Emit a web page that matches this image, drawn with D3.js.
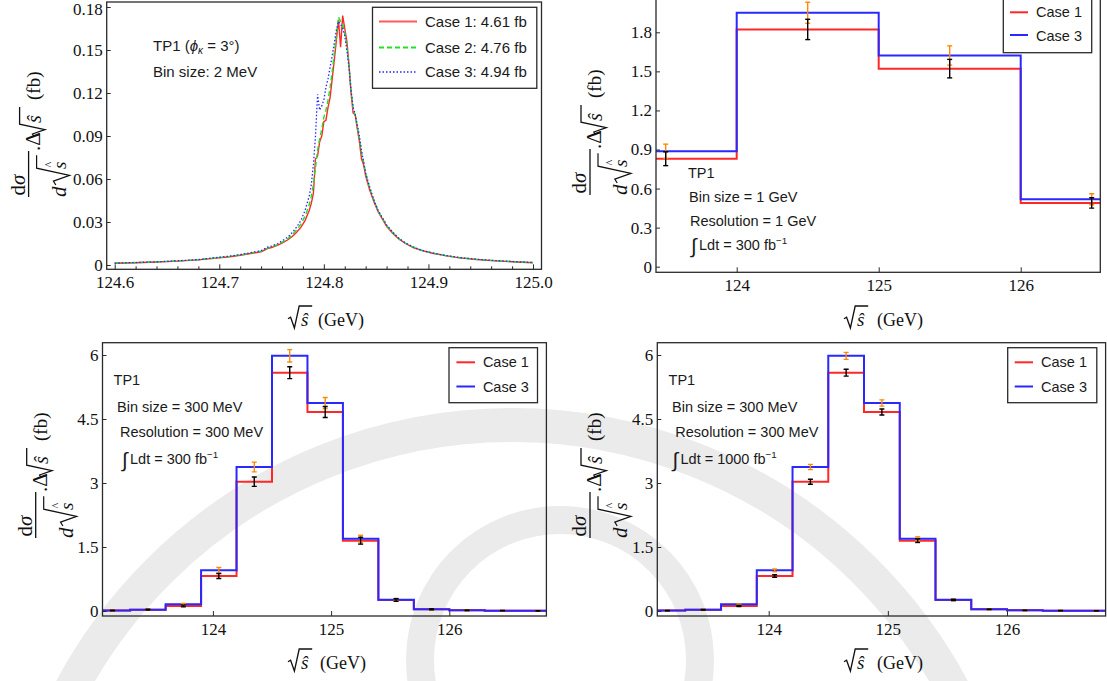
<!DOCTYPE html>
<html>
<head>
<meta charset="utf-8">
<script src="https://cdn.jsdelivr.net/npm/d3@7"></script>
<style>
  html, body { margin: 0; padding: 0; background: #fff; }
  svg { display: block; }
</style>
</head>
<body>
<script>
// ---------- Data ----------
// Panel (a): 2 MeV binned lineshape, three cases
const energyGrid = [124.600,124.620,124.640,124.660,124.680,124.700,124.710,124.720,124.730,124.740,
  124.746,124.750,124.756,124.760,124.766,124.770,124.774,124.778,124.782,124.786,
  124.788,124.790,124.792,124.794,124.796,124.798,124.800,124.802,124.804,124.806,
  124.808,124.810,124.812,124.814,124.816,124.818,124.820,124.822,124.824,124.826,
  124.828,124.830,124.832,124.834,124.836,124.838,124.840,124.844,124.848,124.852,
  124.856,124.860,124.866,124.872,124.878,124.886,124.894,124.904,124.916,124.930,
  124.946,124.964,124.984,125.000];
const lineCase1 = [0.0012,0.0016,0.0021,0.0027,0.0036,0.0050,0.0058,0.0068,0.0080,0.0092,
  0.0115,0.0122,0.0138,0.0152,0.0178,0.0200,0.0228,0.0262,0.0310,0.0380,
  0.0430,0.0500,0.0740,0.0760,0.0860,0.0900,0.1000,0.1010,0.1100,0.1170,
  0.1300,0.1430,0.1570,0.1710,0.1520,0.1740,0.1650,0.1560,0.1400,0.1200,
  0.1060,0.1050,0.0950,0.0860,0.0740,0.0700,0.0620,0.0520,0.0440,0.0370,
  0.0320,0.0270,0.0220,0.0180,0.0150,0.0120,0.0100,0.0082,0.0065,0.0050,
  0.0038,0.0029,0.0021,0.0016];
const lineCase2 = [0.0013,0.0017,0.0022,0.0028,0.0037,0.0052,0.0060,0.0070,0.0083,0.0096,
  0.0118,0.0126,0.0143,0.0158,0.0186,0.0212,0.0245,0.0285,0.0340,0.0420,
  0.0480,0.0560,0.0680,0.0800,0.0880,0.0950,0.1030,0.1080,0.1150,0.1240,
  0.1350,0.1480,0.1600,0.1730,0.1700,0.1680,0.1620,0.1530,0.1400,0.1220,
  0.1090,0.1040,0.0960,0.0880,0.0780,0.0720,0.0640,0.0530,0.0450,0.0375,
  0.0325,0.0275,0.0225,0.0182,0.0152,0.0122,0.0101,0.0083,0.0066,0.0051,
  0.0039,0.0030,0.0022,0.0017];
const lineCase3 = [0.0013,0.0017,0.0022,0.0029,0.0038,0.0054,0.0062,0.0073,0.0086,0.0100,
  0.0124,0.0132,0.0150,0.0168,0.0198,0.0228,0.0265,0.0310,0.0380,0.0480,
  0.0560,0.0700,0.0900,0.1190,0.1080,0.1110,0.1150,0.1240,0.1300,0.1380,
  0.1460,0.1550,0.1640,0.1700,0.1680,0.1650,0.1600,0.1500,0.1380,0.1220,
  0.1100,0.1050,0.0980,0.0900,0.0800,0.0720,0.0640,0.0540,0.0450,0.0380,
  0.0330,0.0280,0.0228,0.0185,0.0154,0.0124,0.0102,0.0084,0.0067,0.0052,
  0.0040,0.0031,0.0023,0.0018];
const lineLegend = ["Case 1: 4.61 fb", "Case 2: 4.76 fb", "Case 3: 4.94 fb"];

// Panel (b): 1 GeV bins, 300 fb^-1
const edges1GeV = [123, 124, 125, 126, 127];
const hist1GeVCase1 = [0.829, 1.822, 1.521, 0.490];
const hist1GeVCase3 = [0.886, 1.950, 1.622, 0.518];
const err1GeVCase1 = [0.053, 0.078, 0.071, 0.040];
const err1GeVCase3 = [0.055, 0.081, 0.074, 0.042];

// Panels (c), (d): 300 MeV bins
const edges300MeV = [123.0,123.3,123.6,123.9,124.2,124.5,124.8,125.1,125.4,125.7,126.0,126.3,126.6,126.9];
const hist300Case1 = [0.010,0.030,0.117,0.820,3.030,5.586,4.664,1.648,0.258,0.040,0.016,0.008,0.005];
const hist300Case3 = [0.010,0.032,0.156,0.953,3.375,5.980,4.875,1.695,0.266,0.042,0.016,0.008,0.005];
const err300Lumi300Case1 = [0.006,0.010,0.020,0.060,0.110,0.140,0.130,0.080,0.030,0.012,0.007,0.005,0.004];
const err300Lumi300Case3 = [0.006,0.010,0.023,0.065,0.115,0.145,0.130,0.080,0.030,0.012,0.007,0.005,0.004];
const err300Lumi1000Case1 = [0.003,0.005,0.011,0.030,0.058,0.080,0.072,0.042,0.016,0.006,0.004,0.003,0.002];
const err300Lumi1000Case3 = [0.003,0.005,0.012,0.032,0.062,0.082,0.074,0.043,0.016,0.006,0.004,0.003,0.002];
const histLegend = ["Case 1", "Case 3"];

// Tick values
const ticksA_x = [124.6, 124.7, 124.8, 124.9, 125.0];
const ticksA_xMinor = [124.62,124.64,124.66,124.68,124.72,124.74,124.76,124.78,124.82,124.84,124.86,124.88,124.92,124.94,124.96,124.98];
const ticksA_y = [0, 0.03, 0.06, 0.09, 0.12, 0.15, 0.18];
const ticksB_x = [124, 125, 126];
const ticksB_y = [0, 0.3, 0.6, 0.9, 1.2, 1.5, 1.8];
const ticksC_x = [124, 125, 126];
const ticksC_y = [0, 1.5, 3, 4.5, 6];

// ---------- Styling ----------
const SERIF = "'Liberation Serif','Times New Roman',serif";
const SANS = "'Liberation Sans',Arial,sans-serif";
const RED = "#ff2828", BLUE = "#2828ff", GREEN = "#22e022", ORANGE = "#ff8a00";
const FRAME = "#2a2a2a";
const SEAL = "#ebebeb";

const svg = d3.select("body").append("svg")
  .attr("width", 1107).attr("height", 681)
  .attr("viewBox", "0 0 1107 681");
const defs = svg.append("defs");

// Faint page seal behind the lower panels
const seal = svg.append("g").attr("fill", "none").attr("stroke", SEAL);
seal.append("circle").attr("cx", 512).attr("cy", 925).attr("r", 500).attr("stroke-width", 34);
seal.append("circle").attr("cx", 560).attr("cy", 660).attr("r", 140).attr("stroke-width", 28);

function fmtY(d) { return d === 0 ? "0" : String(d); }

// Frame, axes and clip region of one panel
function makePanel(o) {
  const g = svg.append("g");
  const x = d3.scaleLinear().domain(o.xDomain).range(o.xRange);
  const y = d3.scaleLinear().domain(o.yDomain).range(o.yRange);
  const f = o.frame;
  defs.append("clipPath").attr("id", "clip-" + o.id)
    .append("rect").attr("x", f.l).attr("y", f.t).attr("width", f.r - f.l).attr("height", f.b - f.t);
  const plot = g.append("g").attr("clip-path", "url(#clip-" + o.id + ")");

  g.append("g").attr("transform", `translate(0,${f.b})`)
    .call(d3.axisBottom(x).tickValues(o.xTicks).tickFormat(o.xFormat).tickSizeInner(-5).tickSizeOuter(0).tickPadding(7));
  if (o.xMinor) {
    g.append("g").attr("transform", `translate(0,${f.b})`)
      .call(d3.axisBottom(x).tickValues(o.xMinor).tickFormat("").tickSizeInner(-3).tickSizeOuter(0));
  }
  g.append("g").attr("transform", `translate(${f.l},0)`)
    .call(d3.axisLeft(y).tickValues(o.yTicks).tickFormat(o.yFormat).tickSizeInner(-4).tickSizeOuter(0).tickPadding(4));
  g.selectAll(".domain").remove();
  g.selectAll(".tick line").attr("stroke", FRAME).attr("stroke-width", 1);
  g.selectAll(".tick text").attr("font-family", SERIF).attr("font-size", 17).attr("fill", "#111");

  g.append("rect").attr("x", f.l).attr("y", f.t).attr("width", f.r - f.l).attr("height", f.b - f.t)
    .attr("fill", "none").attr("stroke", FRAME).attr("stroke-width", 1.3);
  return { g, plot, x, y };
}

// Radical sign drawn as a path: x0 start, base baseline, h height, w overline length
function radical(parent, x0, base, h, w, sw) {
  const p = d3.path();
  p.moveTo(x0, base - h * 0.36);
  p.lineTo(x0 + h * 0.13, base - h * 0.44);
  p.lineTo(x0 + h * 0.32, base + h * 0.1);
  p.lineTo(x0 + h * 0.56, base - h);
  p.lineTo(x0 + h * 0.56 + w, base - h);
  parent.append("path").attr("d", p.toString()).attr("fill", "none")
    .attr("stroke", "#111").attr("stroke-width", sw || 1.2).attr("stroke-linejoin", "miter");
}

// x-axis title:  sqrt(s-hat) (GeV)
function xTitle(x0, base, gevX) {
  const g = svg.append("g");
  radical(g, x0, base, 20, 13, 1.3);
  g.append("text").attr("x", x0 + 13).attr("y", base).attr("font-family", SERIF).attr("font-style", "italic")
    .attr("font-size", 19).attr("fill", "#111").text("ŝ");
  g.append("text").attr("x", gevX).attr("y", base).attr("font-family", SERIF)
    .attr("font-size", 18).attr("fill", "#111").text("(GeV)");
}

// y-axis title: dσ/(d sqrt(s-hat)) . Δ sqrt(s-hat) (fb), rotated
function yTitle(barX, anchorY) {
  const g = svg.append("g").attr("transform", `translate(${barX},${anchorY}) rotate(-90)`);
  const t = (x, y, s, opt) => {
    const e = g.append("text").attr("x", x).attr("y", y).attr("font-family", SERIF)
      .attr("font-size", (opt && opt.size) || 18).attr("fill", "#111");
    if (opt && opt.italic) e.attr("font-style", "italic");
    return e.text(s);
  };
  // numerator
  const num = g.append("text").attr("x", 12).attr("y", -4).attr("text-anchor", "middle")
    .attr("font-family", SERIF).attr("font-size", 21).attr("fill", "#111");
  num.append("tspan").text("d");
  num.append("tspan").attr("font-style", "italic").text("σ");
  // fraction bar
  g.append("line").attr("x1", 0).attr("x2", 46).attr("y1", 0).attr("y2", 0).attr("stroke", "#111").attr("stroke-width", 1.3);
  // denominator
  t(0, 37, "d", { italic: true, size: 21 });
  radical(g, 12, 38, 30, 13, 1.2);
  t(28, 37, "s", { italic: true, size: 19 });
  t(29.5, 24, "^", { size: 12 });
  // rest of the label
  t(46, 11, ".Δ", { size: 21 });
  radical(g, 60, 14, 23, 17, 1.3);
  t(74, 12, "ŝ", { italic: true, size: 20 });
  t(97, 11, "(fb)", { size: 19 });
}

function sansText(parent, x, y, size) {
  return parent.append("text").attr("x", x).attr("y", y).attr("font-family", SANS)
    .attr("font-size", size).attr("fill", "#1a1a1a");
}

function lumiText(x, y, lumi, size) {
  sansText(svg, x, y + 3, size + 6).text("∫");
  const t = sansText(svg, x + 8, y, size);
  t.append("tspan").text("Ldt = " + lumi + " fb");
  t.append("tspan").attr("dy", -6).attr("font-size", size * 0.68).text("−1");
}

function legendBox(box, items, size) {
  svg.append("rect").attr("x", box.l).attr("y", box.t).attr("width", box.r - box.l).attr("height", box.b - box.t)
    .attr("fill", "#fff").attr("stroke", FRAME).attr("stroke-width", 1.3);
  items.forEach(it => {
    svg.append("line").attr("x1", it.x1).attr("x2", it.x2).attr("y1", it.ly).attr("y2", it.ly)
      .attr("stroke", it.color).attr("stroke-width", it.width || 2).attr("stroke-dasharray", it.dash || null);
    sansText(svg, it.tx, it.ty, size).text(it.label);
  });
}

// Step histogram with error bars
function drawHist(p, edges, c1, c3, e1, e3) {
  const line = d3.line().x(d => p.x(d[0])).y(d => p.y(d[1])).curve(d3.curveStepAfter);
  const pts = vals => vals.map((v, i) => [edges[i], v]).concat([[edges[edges.length - 1], vals[vals.length - 1]]]);
  p.plot.append("path").attr("d", line(pts(c1))).attr("fill", "none").attr("stroke", RED).attr("stroke-width", 2);
  p.plot.append("path").attr("d", line(pts(c3))).attr("fill", "none").attr("stroke", BLUE).attr("stroke-width", 2);
  const bars = (vals, errs, color) => {
    vals.forEach((v, i) => {
      const cx = p.x((edges[i] + edges[i + 1]) / 2);
      const y1 = p.y(v - errs[i]), y2 = p.y(v + errs[i]);
      const gb = p.plot.append("g").attr("stroke", color).attr("stroke-width", 1.4);
      gb.append("line").attr("x1", cx).attr("x2", cx).attr("y1", y1).attr("y2", y2);
      gb.append("line").attr("x1", cx - 2.5).attr("x2", cx + 2.5).attr("y1", y1).attr("y2", y1);
      gb.append("line").attr("x1", cx - 2.5).attr("x2", cx + 2.5).attr("y1", y2).attr("y2", y2);
    });
  };
  bars(c3, e3, ORANGE);
  bars(c1, e1, "#000");
}

// ---------- Panel (a) ----------
const pA = makePanel({
  id: "a", xDomain: [124.6, 125.0], xRange: [114.7, 533], yDomain: [0, 0.18], yRange: [265, 7],
  frame: { l: 106.7, t: 2, r: 541.5, b: 269.3 },
  xTicks: ticksA_x, xMinor: ticksA_xMinor, xFormat: d3.format(".1f"),
  yTicks: ticksA_y, yFormat: d => d === 0 ? "0" : d3.format(".2f")(d)
});
// keep the topmost label inside the page
pA.g.selectAll(".tick text").filter(d => d === 0.18).attr("dy", "0.42em");
const lineGen = vals => d3.line().x((d, i) => pA.x(energyGrid[i])).y(d => pA.y(d))(vals);
pA.plot.append("path").attr("d", lineGen(lineCase1)).attr("fill", "none").attr("stroke", RED).attr("stroke-width", 1.4);
pA.plot.append("path").attr("d", lineGen(lineCase2)).attr("fill", "none").attr("stroke", GREEN).attr("stroke-width", 1.4).attr("stroke-dasharray", "5,3");
pA.plot.append("path").attr("d", lineGen(lineCase3)).attr("fill", "none").attr("stroke", BLUE).attr("stroke-width", 1.3).attr("stroke-dasharray", "1.5,2");

const tpA = sansText(svg, 153, 50.7, 15);
tpA.append("tspan").text("TP1 (");
tpA.append("tspan").attr("font-style", "italic").text("ϕ");
tpA.append("tspan").attr("font-size", 10).attr("dy", 3).attr("font-style", "italic").text("κ");
tpA.append("tspan").attr("dy", -3).text(" = 3°)");
sansText(svg, 153, 77, 15).text("Bin size: 2 MeV");

legendBox({ l: 372.5, t: 7.3, r: 536.8, b: 88.3 }, [
  { x1: 379, x2: 417, ly: 21.5, color: "#ff5a5a", width: 2, tx: 425, ty: 26.5, label: lineLegend[0] },
  { x1: 379, x2: 417, ly: 47.5, color: GREEN, width: 2, dash: "5,3", tx: 425, ty: 52.5, label: lineLegend[1] },
  { x1: 379, x2: 417, ly: 72, color: BLUE, width: 1.6, dash: "1.5,2", tx: 425, ty: 77, label: lineLegend[2] }
], 15);
yTitle(28.6, 197);
xTitle(288, 326, 318);

// ---------- Panel (b) ----------
const pB = makePanel({
  id: "b", xDomain: [124, 126], xRange: [736.7, 1020.7], yDomain: [0, 1.8], yRange: [266.7, 32.3],
  frame: { l: 656, t: -10, r: 1100.3, b: 272.3 },
  xTicks: ticksB_x, xFormat: d3.format("d"), yTicks: ticksB_y, yFormat: fmtY
});
drawHist(pB, edges1GeV, hist1GeVCase1, hist1GeVCase3, err1GeVCase1, err1GeVCase3);
sansText(svg, 688, 178, 14.5).text("TP1");
sansText(svg, 689, 201.5, 14.5).text("Bin size = 1 GeV");
sansText(svg, 690, 226, 14.5).text("Resolution = 1 GeV");
lumiText(691, 250, "300", 14.5);
legendBox({ l: 1003.3, t: -12, r: 1091.7, b: 52.7 }, [
  { x1: 1010, x2: 1028, ly: 12.3, color: RED, tx: 1036, ty: 17.3, label: histLegend[0] },
  { x1: 1010, x2: 1028, ly: 35, color: BLUE, tx: 1036, ty: 40.5, label: histLegend[1] }
], 14.5);
yTitle(590, 195);
xTitle(844, 326, 877);

// ---------- Panel (c) ----------
const pC = makePanel({
  id: "c", xDomain: [124, 126], xRange: [212.9, 449.3], yDomain: [0, 6], yRange: [611, 355],
  frame: { l: 102.5, t: 342.7, r: 546.4, b: 616 },
  xTicks: ticksC_x, xFormat: d3.format("d"), yTicks: ticksC_y, yFormat: fmtY
});
drawHist(pC, edges300MeV, hist300Case1, hist300Case3, err300Lumi300Case1, err300Lumi300Case3);
sansText(svg, 113.6, 385, 14.5).text("TP1");
sansText(svg, 117, 411.5, 14.5).text("Bin size = 300 MeV");
sansText(svg, 120, 437, 14.5).text("Resolution = 300 MeV");
lumiText(122, 464, "300", 14.5);
legendBox({ l: 449, t: 347.7, r: 537.5, b: 402.7 }, [
  { x1: 456.4, x2: 475, ly: 362.3, color: RED, tx: 482.9, ty: 367, label: histLegend[0] },
  { x1: 456.4, x2: 475, ly: 386.5, color: BLUE, tx: 482.9, ty: 391.5, label: histLegend[1] }
], 14.5);
yTitle(35.7, 538);
xTitle(288, 669, 320);

// ---------- Panel (d) ----------
const pD = makePanel({
  id: "d", xDomain: [124, 126], xRange: [768.7, 1007], yDomain: [0, 6], yRange: [611, 355],
  frame: { l: 657.3, t: 342.7, r: 1105.6, b: 616 },
  xTicks: ticksC_x, xFormat: d3.format("d"), yTicks: ticksC_y, yFormat: fmtY
});
drawHist(pD, edges300MeV, hist300Case1, hist300Case3, err300Lumi1000Case1, err300Lumi1000Case3);
sansText(svg, 668.6, 385, 14.5).text("TP1");
sansText(svg, 672, 411.5, 14.5).text("Bin size = 300 MeV");
sansText(svg, 675.3, 437, 14.5).text("Resolution = 300 MeV");
lumiText(672.5, 464, "1000", 14.5);
legendBox({ l: 1007.7, t: 347.7, r: 1096.8, b: 402.7 }, [
  { x1: 1014.7, x2: 1033, ly: 362.3, color: RED, tx: 1041, ty: 367, label: histLegend[0] },
  { x1: 1014.7, x2: 1033, ly: 386.5, color: BLUE, tx: 1041, ty: 391.5, label: histLegend[1] }
], 14.5);
yTitle(590, 538);
xTitle(844, 669, 877);
</script>
</body>
</html>
